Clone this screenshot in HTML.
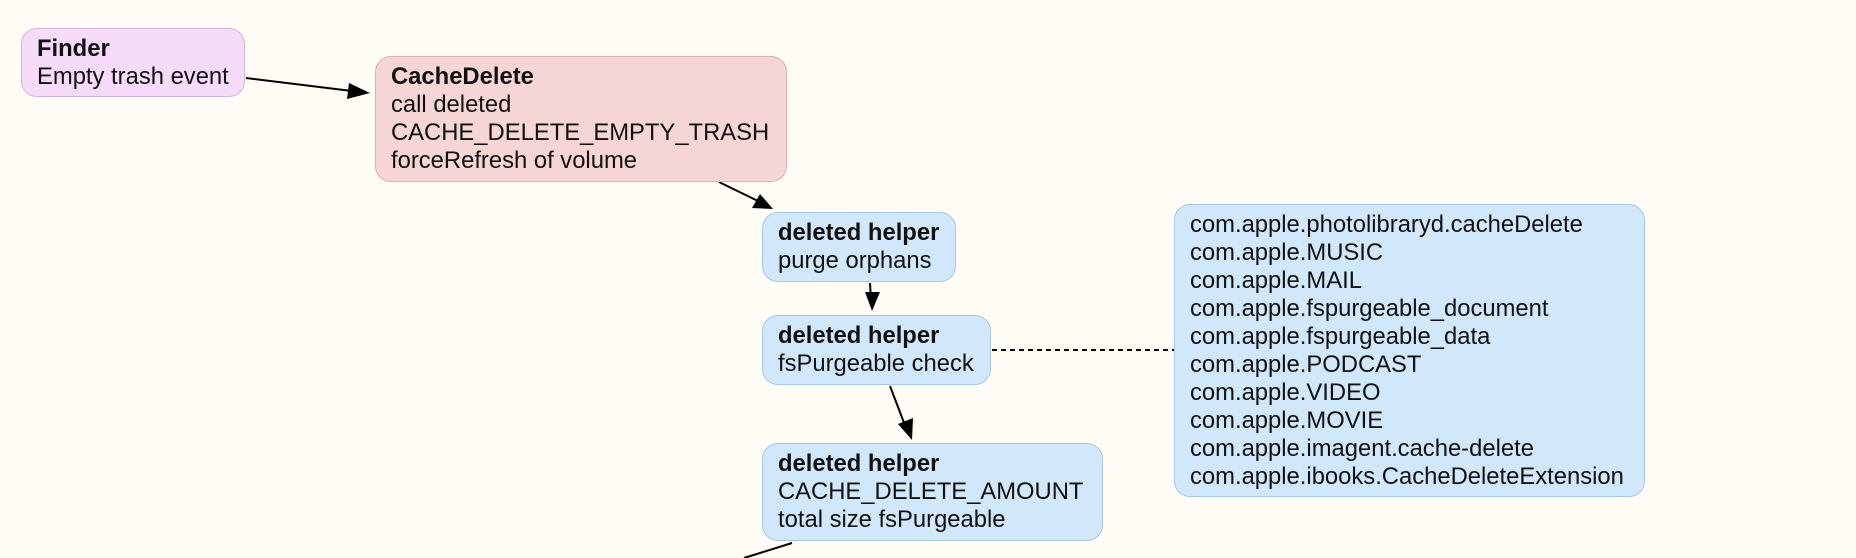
<!DOCTYPE html>
<html><head><meta charset="utf-8"><style>
body{margin:0;width:1856px;height:558px;background:#fffcf5;position:relative;overflow:hidden;font-family:"Liberation Sans",Arial,sans-serif;font-size:23.8px;line-height:28px;color:#111;}
.n{position:absolute;box-sizing:border-box;border-radius:16px;border:1.5px solid;padding:0 15px;display:flex;flex-direction:column;justify-content:center;white-space:nowrap;}
.p{background:#f6dcfa;border-color:#d8b2d2}
.r{background:#f6d5d5;border-color:#dcb2b2}
.b{background:#d1e8fb;border-color:#a4c9e6}
b{font-weight:bold}
svg{position:absolute;left:0;top:0}
</style></head><body>
<svg width="1856" height="558">
<g stroke="#000" stroke-width="2" fill="none">
<line x1="246" y1="78" x2="352" y2="91"/>
<line x1="719" y1="182" x2="760" y2="202"/>
<line x1="870" y1="283" x2="871" y2="300"/>
<line x1="890" y1="386" x2="906" y2="428"/>
<line x1="992" y1="350" x2="1174" y2="350" stroke-dasharray="5,4"/>
<line x1="792" y1="543" x2="744" y2="558"/>
</g>
<g fill="#000">
<path d="M370,93 L347,99 L349,83z"/>
<path d="M773,209 L752,208 L760,194z"/>
<path d="M872,311 L865,292 L880,292z"/>
<path d="M912,440 L898,424 L913,418z"/>
</g>
</svg>
<div class="n p" style="left:21px;top:28px;width:224px;height:69px"><b>Finder</b><span>Empty trash event</span></div>
<div class="n r" style="left:375px;top:56px;width:412px;height:126px"><b>CacheDelete</b><span>call deleted</span><span>CACHE_DELETE_EMPTY_TRASH</span><span>forceRefresh of volume</span></div>
<div class="n b" style="left:762px;top:212px;width:194px;height:70px"><b>deleted helper</b><span>purge orphans</span></div>
<div class="n b" style="left:762px;top:315px;width:229px;height:70px"><b>deleted helper</b><span>fsPurgeable check</span></div>
<div class="n b" style="left:762px;top:443px;width:341px;height:98px"><b>deleted helper</b><span>CACHE_DELETE_AMOUNT</span><span>total size fsPurgeable</span></div>
<div class="n b" style="left:1174px;top:204px;width:471px;height:293px"><span>com.apple.photolibraryd.cacheDelete</span><span>com.apple.MUSIC</span><span>com.apple.MAIL</span><span>com.apple.fspurgeable_document</span><span>com.apple.fspurgeable_data</span><span>com.apple.PODCAST</span><span>com.apple.VIDEO</span><span>com.apple.MOVIE</span><span>com.apple.imagent.cache-delete</span><span>com.apple.ibooks.CacheDeleteExtension</span></div>
</body></html>
